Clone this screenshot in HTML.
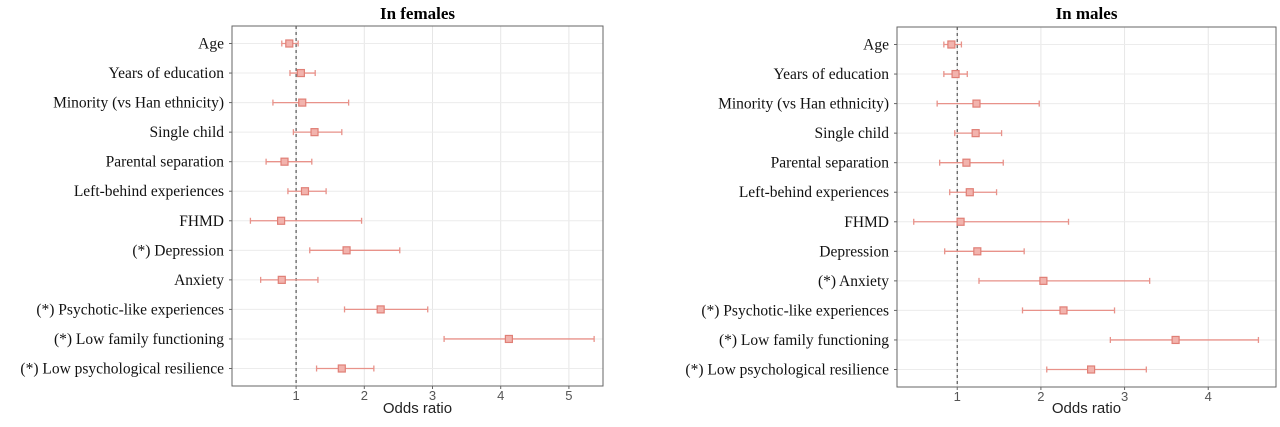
<!DOCTYPE html>
<html><head><meta charset="utf-8"><style>
body{margin:0;background:#fff;width:1280px;height:427px;overflow:hidden}
svg{display:block}
</style></head><body>
<svg id="c" width="1280" height="427"></svg>
<script>
const categories=["Age","Years of education","Minority (vs Han ethnicity)","Single child","Parental separation","Left-behind experiences","FHMD","Depression","Anxiety","Psychotic-like experiences","Low family functioning","Low psychological resilience"];
const femaleSig=[0,0,0,0,0,0,0,1,0,1,1,1];
const femaleOR=[0.90,1.07,1.09,1.27,0.83,1.13,0.78,1.74,0.79,2.24,4.12,1.67];
const femaleLo=[0.79,0.91,0.66,0.96,0.56,0.88,0.33,1.20,0.48,1.71,3.17,1.30];
const femaleHi=[1.03,1.28,1.77,1.67,1.23,1.44,1.96,2.52,1.32,2.93,5.37,2.14];
const maleSig=[0,0,0,0,0,0,0,0,1,1,1,1];
const maleOR=[0.93,0.98,1.23,1.22,1.11,1.15,1.04,1.24,2.03,2.27,3.61,2.60];
const maleLo=[0.84,0.84,0.76,0.97,0.79,0.91,0.48,0.85,1.26,1.78,2.83,2.07];
const maleHi=[1.05,1.12,1.98,1.53,1.55,1.47,2.33,1.80,3.30,2.88,4.60,3.26];
const femaleTicks=[1,2,3,4,5];
const maleTicks=[1,2,3,4];
const NS="http://www.w3.org/2000/svg";
const svg=document.getElementById('c');
function mk(t,a,p){const e=document.createElementNS(NS,t);for(const k in a)e.setAttribute(k,a[k]);(p||svg).appendChild(e);return e;}
function panel(name,title,L,R,T,B,dmin,dmax,ticks,or,lo,hi,sig){
  const g=mk('g',{});
  
  
  const x=v=>L+(v-dmin)/(dmax-dmin)*(R-L);
  const y0=T+17.5, step=(B-T-35)/11;
  const y=i=>y0+i*step;
  const tt=mk('text',{x:(L+R)/2,y:19,'text-anchor':'middle','font-family':'Liberation Serif, serif','font-weight':'bold','font-size':'17'},g);
  tt.textContent=title;
  
  
  ticks.forEach(t=>{
    const l=mk('line',{x1:x(t),x2:x(t),y1:T,y2:B,stroke:'#e6e6e6','stroke-width':1},g);
    
    
    mk('line',{x1:x(t),x2:x(t),y1:B,y2:B+3,stroke:'#666'},g);
    const tl=mk('text',{x:x(t),y:B+14,'text-anchor':'middle','font-family':'Liberation Sans, sans-serif','font-size':'13',fill:'#555'},g);
    tl.textContent=t;
    
    
  });
  categories.forEach((c,i)=>{
    mk('line',{x1:L,x2:R,y1:y(i),y2:y(i),stroke:'#ececec','stroke-width':1},g);
  });
  const ref=mk('line',{x1:x(1),x2:x(1),y1:T,y2:B,stroke:'#555','stroke-dasharray':'3,3','stroke-width':1.2},g);
  
  
  const fr=mk('rect',{x:L,y:T,width:R-L,height:B-T,fill:'none',stroke:'#666','stroke-width':1},g);
  
  
  categories.forEach((c,i)=>{
    mk('line',{x1:L-3,x2:L,y1:y(i),y2:y(i),stroke:'#666'},g);
    const lb=mk('text',{x:L-8,y:y(i)+5,'text-anchor':'end','font-family':'Liberation Serif, serif','font-size':'15.5',fill:'#111'},g);
    lb.textContent=(sig[i]?'(*) ':'')+c;
    
    
    const eb=mk('g',{},g);
    
    
    mk('line',{x1:x(lo[i]),x2:x(hi[i]),y1:y(i),y2:y(i),stroke:'#e8928a','stroke-width':1.3},eb);
    mk('line',{x1:x(lo[i]),x2:x(lo[i]),y1:y(i)-3,y2:y(i)+3,stroke:'#e8928a','stroke-width':1.3},eb);
    mk('line',{x1:x(hi[i]),x2:x(hi[i]),y1:y(i)-3,y2:y(i)+3,stroke:'#e8928a','stroke-width':1.3},eb);
    const pt=mk('rect',{x:x(or[i])-3.5,y:y(i)-3.5,width:7,height:7,fill:'#f2b3ad',stroke:'#e07f76','stroke-width':1.2},eb);
    
    
  });
  const xt=mk('text',{x:(L+R)/2,y:413,'text-anchor':'middle','font-family':'Liberation Sans, sans-serif','font-size':'15',fill:'#222'},g);
  xt.textContent='Odds ratio';
  
  
}
panel('female','In females',232,603,26,386,0.06,5.50,femaleTicks,femaleOR,femaleLo,femaleHi,femaleSig);
panel('male','In males',897,1276,27,387,0.28,4.81,maleTicks,maleOR,maleLo,maleHi,maleSig);
</script>
</body></html>
